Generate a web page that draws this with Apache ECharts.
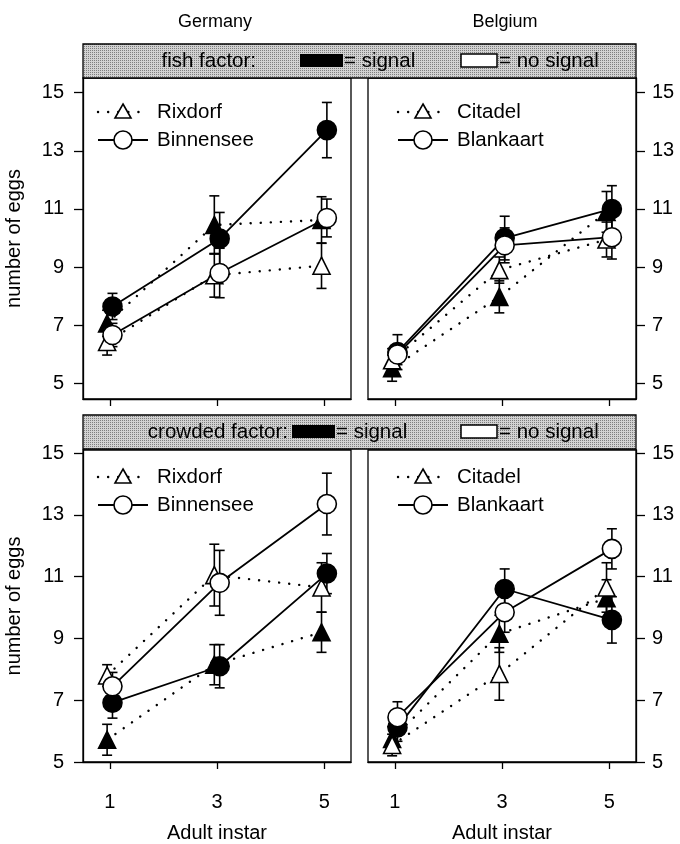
<!DOCTYPE html>
<html>
<head>
<meta charset="utf-8">
<script src="https://cdn.jsdelivr.net/npm/echarts@6/dist/echarts.min.js"></script>
<style>
html, body { margin: 0; padding: 0; background: #fff; }
#main { width: 680px; height: 844px; }
</style>
</head>
<body>
<div id="main"></div>
<script>
// values (mean, +/- error)
var instars = [1, 3, 5];
var xTicks = [1, 3, 5];
var yTicks = [5, 7, 9, 11, 13, 15];
var countries = ['Germany', 'Belgium'];
var factors = ['fish factor:', 'crowded factor:'];
var germanPops = ['Rixdorf', 'Binnensee'];
var belgianPops = ['Citadel', 'Blankaart'];

// Germany, fish
var gerFishRixSig = [7.07, 10.45, 10.62];
var gerFishRixSigSE = [0.45, 1.0, 0.8];
var gerFishRixNo = [6.43, 8.72, 9.05];
var gerFishRixNoSE = [0.45, 0.75, 0.78];
var gerFishBinSig = [7.65, 9.98, 13.71];
var gerFishBinSigSE = [0.45, 0.9, 0.95];
var gerFishBinNo = [6.67, 8.8, 10.69];
var gerFishBinNoSE = [0.4, 0.85, 0.65];

// Belgium, fish
var belFishCitSig = [5.53, 7.98, 10.9];
var belFishCitSigSE = [0.45, 0.55, 0.7];
var belFishCitNo = [5.8, 8.9, 9.95];
var belFishCitNoSE = [0.4, 0.45, 0.6];
var belFishBlaSig = [6.08, 10.0, 11.0];
var belFishBlaSigSE = [0.6, 0.75, 0.8];
var belFishBlaNo = [6.0, 9.75, 10.03];
var belFishBlaNoSE = [0.35, 0.6, 0.75];

// Germany, crowded
var gerCrowdRixSig = [5.72, 8.15, 9.2];
var gerCrowdRixSigSE = [0.5, 0.65, 0.65];
var gerCrowdRixNo = [7.8, 11.05, 10.65];
var gerCrowdRixNoSE = [0.35, 1.0, 0.8];
var gerCrowdBinSig = [6.92, 8.1, 11.1];
var gerCrowdBinSigSE = [0.5, 0.7, 0.65];
var gerCrowdBinNo = [7.45, 10.8, 13.35];
var gerCrowdBinNoSE = [0.45, 1.05, 1.0];

// Belgium, crowded
var belCrowdCitSig = [5.75, 9.15, 10.3];
var belCrowdCitSigSE = [0.4, 0.6, 0.6];
var belCrowdCitNo = [5.55, 7.85, 10.65];
var belCrowdCitNoSE = [0.35, 0.85, 0.8];
var belCrowdBlaSig = [6.12, 10.6, 9.6];
var belCrowdBlaSigSE = [0.45, 0.65, 0.75];
var belCrowdBlaNo = [6.45, 9.85, 11.9];
var belCrowdBlaNoSE = [0.5, 0.65, 0.65];

var myChart = echarts.init(document.getElementById('main'));
var FONT = '"Liberation Sans", Arial, sans-serif';
var TXT = '20.5px ' + FONT;

// panel layout
var panels = [
    { left: 83, top: 78, width: 268, height: 321, ymin: 4.47, ymax: 15.5, row: 0, col: 0 },
    { left: 368, top: 78, width: 268, height: 321, ymin: 4.47, ymax: 15.5, row: 0, col: 1 },
    { left: 83, top: 450, width: 268, height: 322, ymin: 5, ymax: 15.1, row: 1, col: 0 },
    { left: 368, top: 450, width: 268, height: 322, ymin: 5, ymax: 15.1, row: 1, col: 1 }
];

var panelData = [
    [gerFishRixSig, gerFishRixSigSE, gerFishRixNo, gerFishRixNoSE, gerFishBinSig, gerFishBinSigSE, gerFishBinNo, gerFishBinNoSE],
    [belFishCitSig, belFishCitSigSE, belFishCitNo, belFishCitNoSE, belFishBlaSig, belFishBlaSigSE, belFishBlaNo, belFishBlaNoSE],
    [gerCrowdRixSig, gerCrowdRixSigSE, gerCrowdRixNo, gerCrowdRixNoSE, gerCrowdBinSig, gerCrowdBinSigSE, gerCrowdBinNo, gerCrowdBinNoSE],
    [belCrowdCitSig, belCrowdCitSigSE, belCrowdCitNo, belCrowdCitNoSE, belCrowdBlaSig, belCrowdBlaSigSE, belCrowdBlaNo, belCrowdBlaNoSE]
];

function errSeries(gi, vals, se, dodge)
{
    return {
        type: 'custom',
        xAxisIndex: gi,
        yAxisIndex: gi,
        silent: true,
        z: 2,
        data: instars.map(function (x, i) { return [x + dodge, vals[i] - se[i], vals[i] + se[i]]; }),
        encode: { x: 0, y: [1, 2] },
        renderItem: function (params, api) {
            var lo = api.coord([api.value(0), api.value(1)]);
            var hi = api.coord([api.value(0), api.value(2)]);
            var w = 5;
            var st = { stroke: '#000', lineWidth: 1.6 };
            return {
                type: 'group',
                children: [
                    { type: 'line', shape: { x1: lo[0], y1: lo[1], x2: hi[0], y2: hi[1] }, style: st },
                    { type: 'line', shape: { x1: lo[0] - w, y1: lo[1], x2: lo[0] + w, y2: lo[1] }, style: st },
                    { type: 'line', shape: { x1: hi[0] - w, y1: hi[1], x2: hi[0] + w, y2: hi[1] }, style: st }
                ]
            };
        }
    };
}

function lineSeries(gi, vals, dodge, filled, isTri)
{
    return {
        type: 'line',
        xAxisIndex: gi,
        yAxisIndex: gi,
        silent: true,
        z: 3,
        data: instars.map(function (x, i) { return [x + dodge, vals[i]]; }),
        symbol: isTri ? 'triangle' : 'circle',
        symbolSize: isTri ? 17 : 19,
        showAllSymbol: true,
        lineStyle: { color: '#000', width: isTri ? 2.4 : 1.8, type: isTri ? [0.1, 10] : 'solid', cap: 'round' },
        itemStyle: { color: filled ? '#000' : '#fff', borderColor: '#000', borderWidth: 1.6 }
    };
}

// stippled grey for the strips
var pat = document.createElement('canvas');
pat.width = 2; pat.height = 2;
var pctx = pat.getContext('2d');
pctx.fillStyle = '#d2d2d2';
pctx.fillRect(0, 0, 2, 2);
pctx.fillStyle = '#7e7e7e';
pctx.fillRect(0, 0, 1, 1);

var grids = [], xAxes = [], yAxes = [], series = [], graphics = [];

panels.forEach(function (p, gi) {
    grids.push({
        left: p.left, top: p.top, width: p.width, height: p.height,
        show: true, borderColor: '#000', borderWidth: 1.3, backgroundColor: 'transparent'
    });
    xAxes.push({
        gridIndex: gi, type: 'value', min: 0.5, max: 5.5,
        name: p.row === 1 ? 'Adult instar' : '',
        nameLocation: 'middle', nameGap: 61,
        nameTextStyle: { fontFamily: FONT, fontSize: 20, color: '#000' },
        axisLine: { show: true, lineStyle: { color: '#000', width: 1.3 } },
        axisTick: { show: true, length: 7, customValues: xTicks, lineStyle: { color: '#000', width: 1.3 } },
        axisLabel: { show: p.row === 1, customValues: xTicks, margin: 30, fontFamily: FONT, fontSize: 20, color: '#000' },
        splitLine: { show: false }
    });
    yAxes.push({
        gridIndex: gi, type: 'value', min: p.ymin, max: p.ymax,
        position: p.col === 0 ? 'left' : 'right',
        name: p.col === 0 ? 'number of eggs' : '',
        nameLocation: 'middle', nameGap: 59, nameRotate: 90,
        nameTextStyle: { fontFamily: FONT, fontSize: 20, color: '#000' },
        axisLine: { show: true, lineStyle: { color: '#000', width: 1.3 } },
        axisTick: { show: true, length: 9, customValues: yTicks, lineStyle: { color: '#000', width: 1.3 } },
        axisLabel: { customValues: yTicks, margin: p.col === 0 ? 19 : 16, fontFamily: FONT, fontSize: 20, color: '#000' },
        splitLine: { show: false }
    });

    var d = panelData[gi];
    series.push(errSeries(gi, d[0], d[1], -0.05));
    series.push(errSeries(gi, d[2], d[3], -0.05));
    series.push(errSeries(gi, d[4], d[5], 0.05));
    series.push(errSeries(gi, d[6], d[7], 0.05));
    series.push(lineSeries(gi, d[0], -0.05, true, true));
    series.push(lineSeries(gi, d[2], -0.05, false, true));
    series.push(lineSeries(gi, d[4], 0.05, true, false));
    series.push(lineSeries(gi, d[6], 0.05, false, false));

    // in-panel key
    var names = p.col === 0 ? germanPops : belgianPops;
    var lx = p.left + (p.col === 0 ? 15 : 30);
    var r1 = p.top + (p.row === 0 ? 34 : 27);
    var r2 = r1 + 28;
    var sx = lx + 25;
    graphics.push(
        { type: 'line', z: 10, shape: { x1: lx, y1: r1, x2: lx + 50, y2: r1 }, style: { stroke: '#000', lineWidth: 2.4, lineDash: [0.1, 10], lineCap: 'round' } },
        { type: 'polygon', z: 11, shape: { points: [[sx, r1 - 8], [sx + 8, r1 + 6], [sx - 8, r1 + 6]] }, style: { fill: '#fff', stroke: '#000', lineWidth: 1.6 } },
        { type: 'text', z: 11, x: lx + 59, y: r1, style: { text: names[0], font: TXT, fill: '#000', verticalAlign: 'middle' } },
        { type: 'line', z: 10, shape: { x1: lx, y1: r2, x2: lx + 50, y2: r2 }, style: { stroke: '#000', lineWidth: 1.8 } },
        { type: 'circle', z: 11, shape: { cx: sx, cy: r2, r: 9 }, style: { fill: '#fff', stroke: '#000', lineWidth: 1.6 } },
        { type: 'text', z: 11, x: lx + 59, y: r2, style: { text: names[1], font: TXT, fill: '#000', verticalAlign: 'middle' } }
    );
});

// column titles
graphics.push(
    { type: 'text', x: 215, y: 22, style: { text: countries[0], font: '18px ' + FONT, fill: '#000', align: 'center', verticalAlign: 'middle' } },
    { type: 'text', x: 505, y: 22, style: { text: countries[1], font: '18px ' + FONT, fill: '#000', align: 'center', verticalAlign: 'middle' } }
);

// factor strips
[{ top: 44, label: factors[0], lx: 256, bx: 300 }, { top: 415, label: factors[1], lx: 288, bx: 292 }].forEach(function (s) {
    var cy = s.top + 17;
    graphics.push(
        { type: 'rect', shape: { x: 83, y: s.top, width: 553, height: 34 }, style: { fill: { image: pat, repeat: 'repeat' }, stroke: '#000', lineWidth: 1.3 } },
        { type: 'text', x: s.lx, y: cy, style: { text: s.label, font: TXT, fill: '#000', align: 'right', verticalAlign: 'middle' } },
        { type: 'rect', shape: { x: s.bx, y: cy - 7, width: 43, height: 13 }, style: { fill: '#000' } },
        { type: 'text', x: s.bx + 44, y: cy, style: { text: '= signal', font: TXT, fill: '#000', verticalAlign: 'middle' } },
        { type: 'rect', shape: { x: 461, y: cy - 7, width: 36, height: 13 }, style: { fill: '#fff', stroke: '#000', lineWidth: 1.5 } },
        { type: 'text', x: 499, y: cy, style: { text: '= no signal', font: TXT, fill: '#000', verticalAlign: 'middle' } }
    );
});

var option = {
    animation: false,
    backgroundColor: '#fff',
    grid: grids,
    xAxis: xAxes,
    yAxis: yAxes,
    series: series,
    graphic: graphics
};

myChart.setOption(option);
</script>
</body>
</html>
